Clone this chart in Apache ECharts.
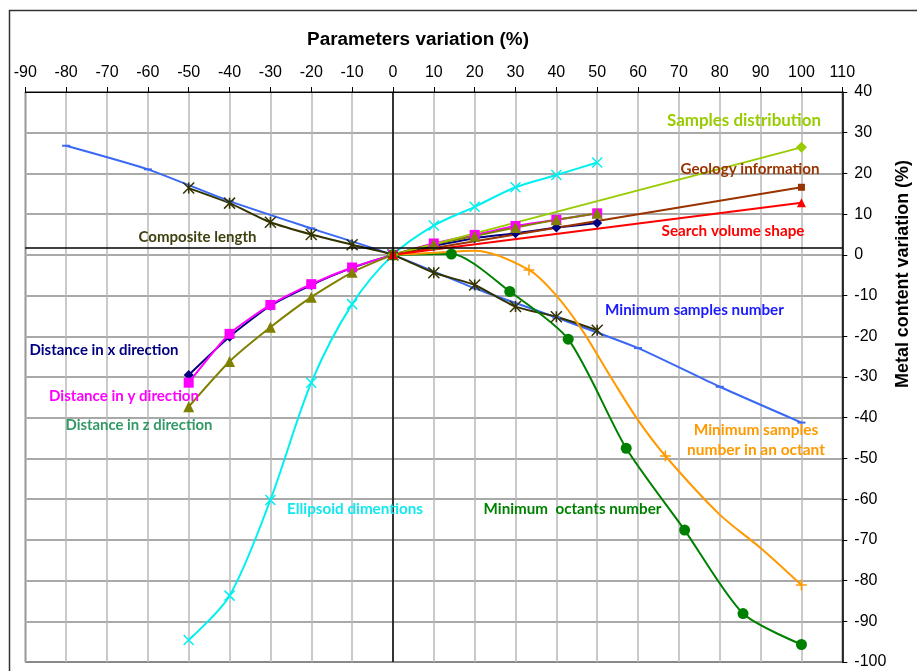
<!DOCTYPE html>
<html>
<head>
<meta charset="utf-8">
<script src="https://cdn.jsdelivr.net/npm/echarts@6/dist/echarts.min.js"></script>
<style>
html,body{margin:0;padding:0;background:#fff;}
#chart{width:917px;height:671px;}
</style>
</head>
<body>
<div id="chart"></div>
<script>
// ---------- data ----------
const xDistance = [-50, -40, -30, -20, -10, 0, 10, 20, 30, 40, 50];
const distanceX = [-29.5, -20.1, -12.5, -7.4, -3.2, 0, 2.2, 4.1, 5.3, 6.7, 7.8];
const distanceY = [-31.4, -19.4, -12.3, -7.2, -3.1, 0, 2.8, 4.9, 7.1, 8.6, 10.2];
const distanceZ = [-37.3, -26.2, -17.8, -10.4, -4.3, 0, 2.6, 4.6, 6.7, 8.6, 10.2];
const ellipsoid = [-94.6, -83.7, -60.2, -31.4, -12.1, 0, 7.2, 11.8, 16.6, 19.6, 22.7];
const composite = [16.4, 12.7, 8.0, 5.0, 2.5, 0, -4.4, -7.4, -12.7, -15.2, -18.5];

const xMinSamples = [-80, -60, -40, -20, 0, 20, 40, 60, 80, 100];
const minSamples = [26.8, 21.0, 13.2, 6.5, 0, -8.2, -15.4, -22.9, -32.4, -41.2];

const xOctants = [0, 14.3, 28.6, 42.9, 57.1, 71.4, 85.7, 100];
const minOctants = [0, 0.2, -9.0, -20.7, -47.5, -67.6, -88.1, -95.7];

// markers of "Minimum samples number in an octant"
const xOctantSamples = [0, 33.3, 66.7, 100];
const minOctantSamples = [0, -3.7, -49.4, -81.1];
// its curve (passes through the markers)
const xOctantSamplesCurve = [0, 10, 20, 33.3, 40, 46, 53.5, 60, 66.7, 80, 90, 100];
const minOctantSamplesCurve = [0, 0.5, 1.0, -3.7, -10.0, -18.0, -30.3, -40.6, -49.4, -63.8, -72.0, -81.1];

const xEnds = [0, 100];
const samplesDistribution = [0, 26.4];
const geologyInfo = [0, 16.6];
const searchVolume = [0, 12.8];

const xAxisCross = 0;     // vertical axis crossing (x value)
const yAxisCross = 1.8;   // horizontal axis crossing (y value)

const xTitle = 'Parameters variation (%)';
const yTitle = 'Metal content variation (%)';

// ---------- helpers ----------
const pair = (xs, ys) => xs.map((x, i) => [x, ys[i]]);
const X_PATH = 'path://M0,0L10,10M10,0L0,10';
const STAR_PATH = 'path://M0,0L10,10M10,0L0,10M5,0L5,10';
const PLUS_PATH = 'path://M5,0L5,10M0,5L10,5';
const DASH_PATH = 'path://M0,0L10,0L10,2L0,2Z';

function line(name, data, color, symbol, size, opts) {
  const stroked = symbol.startsWith('path://') && symbol !== DASH_PATH;
  return Object.assign({
    name, type: 'line', data,
    symbol, symbolSize: size,
    showSymbol: symbol !== 'none',
    lineStyle: { color, width: 2 },
    itemStyle: { color, borderColor: color, borderWidth: stroked ? 1.5 : 0 },
    emphasis: { disabled: true },
    silent: true,
    smooth: false
  }, opts || {});
}

const measureCtx = document.createElement('canvas').getContext('2d');
function fitSize(text, targetW, family, weight) {
  measureCtx.font = weight + ' 20px ' + family;
  const w = Math.max.apply(null, text.split('\n').map(t => measureCtx.measureText(t).width));
  return 20 * targetW / w;
}

const annotFamily = 'Lato, "Open Sans", sans-serif';
function note(text, x, y, color, targetW) {
  const size = fitSize(text, targetW, annotFamily, 'bold');
  return { type: 'text', x, y, silent: true, z: 100,
    style: { text, fill: color, font: 'bold ' + size.toFixed(2) + 'px ' + annotFamily,
      lineHeight: 19.5, textAlign: 'center', textVerticalAlign: 'middle' } };
}
const titleFamily = '"Liberation Sans", Arial, sans-serif';
const xTitleSize = fitSize(xTitle, 222, titleFamily, 'bold');
const yTitleSize = fitSize(yTitle, 228, titleFamily, 'bold');

const chart = echarts.init(document.getElementById('chart'), null, { renderer: 'canvas' });
chart.setOption({
  animation: false,
  backgroundColor: '#ffffff',
  grid: { left: 25.3, right: 74.7, top: 92, bottom: 9, show: true, borderColor: '#000', borderWidth: 1, containLabel: false },
  xAxis: {
    type: 'value', position: 'top', min: -90, max: 110, interval: 10,
    axisLine: { show: true, onZero: false, lineStyle: { color: '#000', width: 1 } },
    axisTick: { show: true, inside: false, length: 5, lineStyle: { color: '#000' } },
    axisLabel: { color: '#000', fontSize: 16, fontFamily: titleFamily, margin: 11 },
    splitLine: { show: true, lineStyle: { color: '#b8b8b8', width: 1.5 } }
  },
  yAxis: {
    type: 'value', position: 'right', min: -100, max: 40, interval: 10,
    axisLine: { show: true, onZero: false, lineStyle: { color: '#000', width: 1.5 } },
    axisTick: { show: true, inside: false, length: 5, lineStyle: { color: '#000' } },
    axisLabel: { color: '#000', fontSize: 16, fontFamily: titleFamily, margin: 12 },
    splitLine: { show: true, lineStyle: { color: '#8c8c8c', width: 1.5 } }
  },
  series: [
    { type: 'line', data: [], z: 1, silent: true,
      markLine: { silent: true, symbol: ['none', 'none'], animation: false,
        label: { show: false },
        lineStyle: { color: '#000', width: 1.5, type: 'solid' },
        emphasis: { disabled: true },
        data: [{ yAxis: yAxisCross }, { xAxis: xAxisCross }] } },
    line('Minimum samples number', pair(xMinSamples, minSamples), '#3A68F5', DASH_PATH, [8, 2], { smooth: 0.2 }),
    line('Composite length', pair(xDistance, composite), '#333300', STAR_PATH, 11, { smooth: 0.2 }),
    line('Ellipsoid dimentions', pair(xDistance, ellipsoid), '#00F0F0', X_PATH, 10, { smooth: 0.3 }),
    line('Distance in x direction', pair(xDistance, distanceX), '#000080', 'diamond', 10, { smooth: 0.2 }),
    line('Distance in y direction', pair(xDistance, distanceY), '#FF00FF', 'rect', 10, { smooth: 0.2 }),
    line('Distance in z direction', pair(xDistance, distanceZ), '#808000', 'triangle', 11, { smooth: 0.2 }),
    line('Minimum octants number', pair(xOctants, minOctants), '#008000', 'circle', 11, { smooth: 0.25 }),
    line('Minimum samples number in an octant', pair(xOctantSamplesCurve, minOctantSamplesCurve), '#FF9900', 'none', 0, { smooth: 0.3 }),
    { name: 'Minimum samples number in an octant (markers)', type: 'scatter', silent: true,
      data: pair(xOctantSamples, minOctantSamples), symbol: PLUS_PATH, symbolSize: 11,
      itemStyle: { color: '#FF9900', borderColor: '#FF9900', borderWidth: 1.5, opacity: 1 },
      emphasis: { disabled: true } },
    line('Samples distribution', pair(xEnds, samplesDistribution), '#99CC00', 'diamond', 11),
    line('Geology information', pair(xEnds, geologyInfo), '#993300', 'rect', 7),
    line('Search volume shape', pair(xEnds, searchVolume), '#FF0000', 'triangle', 9)
  ],
  graphic: [
    { type: 'rect', silent: true, z: 100, shape: { x: 9.5, y: 10.5, width: 1000, height: 1000 },
      style: { fill: 'none', stroke: '#333', lineWidth: 1.5 } },
    { type: 'text', x: 418, y: 40, silent: true, z: 100,
      style: { text: xTitle, fill: '#000', font: 'bold ' + xTitleSize.toFixed(2) + 'px ' + titleFamily, textAlign: 'center', textVerticalAlign: 'middle' } },
    { type: 'text', x: 903, y: 274, rotation: Math.PI / 2, silent: true, z: 100,
      style: { text: yTitle, fill: '#000', font: 'bold ' + yTitleSize.toFixed(2) + 'px ' + titleFamily, textAlign: 'center', textVerticalAlign: 'middle' } },
    note('Samples distribution', 744, 121, '#99CC00', 154),
    note('Geology information', 750, 169, '#993300', 139),
    note('Search volume shape', 733, 231, '#FF0000', 143),
    note('Minimum samples number', 694.5, 310, '#1A1AFF', 179),
    note('Composite length', 197.5, 237, '#404010', 118),
    note('Distance in x direction', 104, 350, '#000080', 149),
    note('Distance in y direction', 124, 396, '#FF00FF', 150),
    note('Distance in z direction', 139, 425, '#339966', 147),
    note('Ellipsoid dimentions', 355, 509, '#11E8EE', 136),
    note('Minimum  octants number', 572.5, 509, '#008000', 178),
    note('Minimum samples\nnumber in an octant', 756, 440, '#FF9900', 138)
  ]
});
</script>
</body>
</html>
